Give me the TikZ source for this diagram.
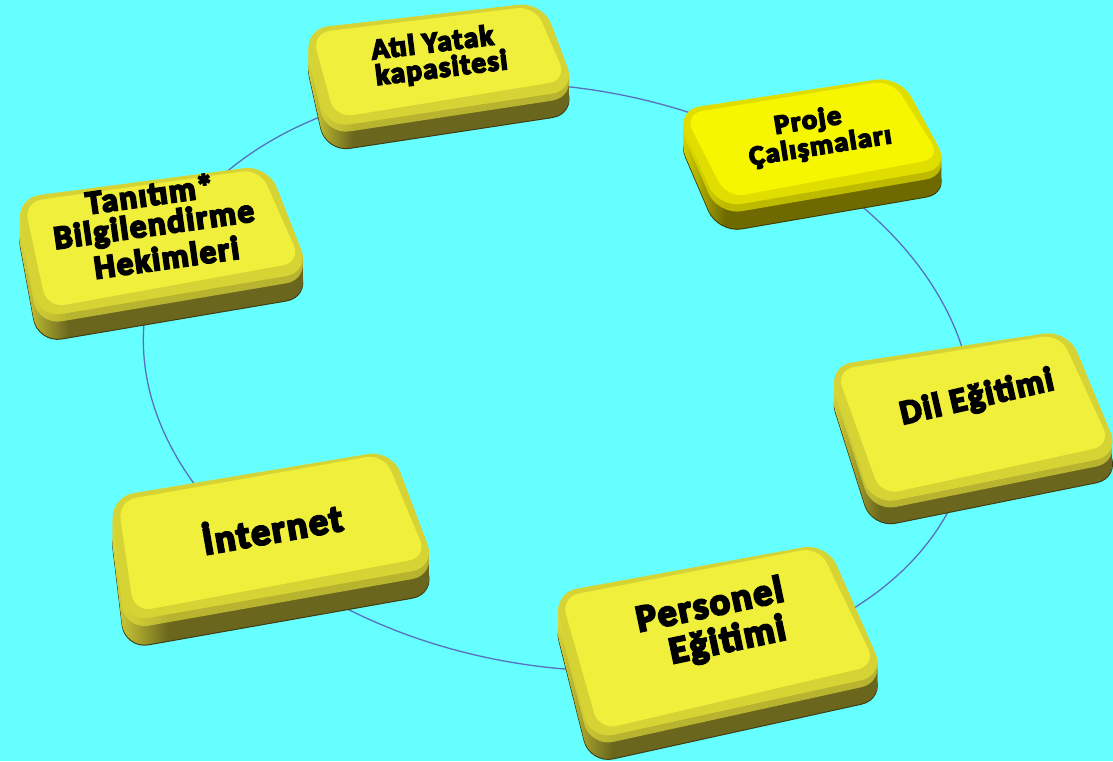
\documentclass[tikz,border=0pt]{standalone}
\usepackage{fontspec}
\usetikzlibrary{calc}
\newfontfamily\boxfont{Carlito}[UprightFont={* Bold}, FakeBold=6, LetterSpace=5]
\definecolor{bgc}{RGB}{102,255,255}
\definecolor{ringc}{RGB}{88,112,190}
\definecolor{faceY}{RGB}{240,240,60}
\definecolor{bevelY}{RGB}{214,211,52}
\definecolor{lipY}{RGB}{184,180,48}
\definecolor{sideLY}{RGB}{222,220,58}
\definecolor{sideDY}{RGB}{106,102,30}
\definecolor{faceP}{RGB}{246,246,0}
\definecolor{bevelP}{RGB}{224,221,0}
\definecolor{lipP}{RGB}{190,186,0}
\definecolor{sideLP}{RGB}{228,226,0}
\definecolor{sideDP}{RGB}{110,106,0}
\pgfdeclarehorizontalshading{sideshY}{100bp}{color(0bp)=(sideLY); color(25bp)=(sideLY); color(34bp)=(sideDY); color(100bp)=(sideDY)}
\pgfdeclarehorizontalshading{lipshY}{100bp}{color(0bp)=(sideLY); color(25bp)=(sideLY); color(34bp)=(lipY); color(100bp)=(lipY)}
\pgfdeclarehorizontalshading{sideshP}{100bp}{color(0bp)=(sideLP); color(25bp)=(sideLP); color(34bp)=(sideDP); color(100bp)=(sideDP)}
\pgfdeclarehorizontalshading{lipshP}{100bp}{color(0bp)=(sideLP); color(25bp)=(sideLP); color(34bp)=(lipP); color(100bp)=(lipP)}
% #1 prefix, #2 depth, #3 face, #4 bevel, #5 side shading, #6 lip shading, #7 outline colour
\newcommand{\slab}[7]{%
  \shadedraw[rounded corners=24pt, shading=#5, draw=#7, line width=1pt] ($(#1TL)+(0,#2)$) -- ($(#1TR)+(0,#2)$) -- ($(#1BR)+(0,#2)$) -- ($(#1BL)+(0,#2)$) -- cycle;
  \foreach \k in {1,...,16}{%
    \pgfmathsetmacro\slabS{#2*(24-\k)/24}%
    \shade[rounded corners=24pt, shading=#5] ($(#1TL)+(0,\slabS)$) -- ($(#1TR)+(0,\slabS)$) -- ($(#1BR)+(0,\slabS)$) -- ($(#1BL)+(0,\slabS)$) -- cycle;
  }%
  \foreach \k in {17,...,23}{%
    \pgfmathsetmacro\slabS{#2*(24-\k)/24}%
    \shade[rounded corners=24pt, shading=#6] ($(#1TL)+(0,\slabS)$) -- ($(#1TR)+(0,\slabS)$) -- ($(#1BR)+(0,\slabS)$) -- ($(#1BL)+(0,\slabS)$) -- cycle;
  }%
  \fill[rounded corners=24pt, #4] (#1TL) -- (#1TR) -- (#1BR) -- (#1BL) -- cycle;
  \fill[rounded corners=18pt, #3] ($(#1TL)+(8,4)$) -- ($(#1TR)+(-8,4)$) -- ($(#1BR)+(-9,-10)$) -- ($(#1BL)+(9,-10)$) -- cycle;
}
\tikzset{
  ring/.style={draw=ringc, line width=1.3pt},
  boxtext/.style={align=center, inner sep=0pt, text=black},
}
\begin{document}
\begin{tikzpicture}[x=1pt,y=-1pt]
\useasboundingbox (0,0) rectangle (1113,761);
\fill[bgc] (0,0) rectangle (1113,761);
% ring (a rotated ellipse)
\coordinate (ringc) at (558,377);
\draw[ring, rotate around={-10:(ringc)}] (ringc) ellipse [x radius=418pt, y radius=289pt];
% box corner coordinates
\coordinate (aTL) at (304,29);  \coordinate (aTR) at (543,2);   \coordinate (aBR) at (576,90);  \coordinate (aBL) at (326,128);
\coordinate (bTL) at (676,110); \coordinate (bTR) at (900,76);  \coordinate (bBR) at (950,168); \coordinate (bBL) at (718,208);
\coordinate (cTL) at (16,198);  \coordinate (cTR) at (268,165); \coordinate (cBR) at (310,272); \coordinate (cBL) at (38,318);
\coordinate (dTL) at (828,366); \coordinate (dTR) at (1068,330);\coordinate (dBR) at (1120,455);\coordinate (dBL) at (872,505);
\coordinate (eTL) at (110,497); \coordinate (eTR) at (392,450); \coordinate (eBR) at (436,567); \coordinate (eBL) at (125,622);
\coordinate (fTL) at (553,593); \coordinate (fTR) at (827,543); \coordinate (fBR) at (885,675); \coordinate (fBL) at (590,740);
\slab{a}{24}{faceY}{bevelY}{sideshY}{lipshY}{sideDY!60!black}
\slab{b}{25}{faceP}{bevelP}{sideshP}{lipshP}{sideDP!60!black}
\slab{c}{25}{faceY}{bevelY}{sideshY}{lipshY}{sideDY!60!black}
\slab{d}{23}{faceY}{bevelY}{sideshY}{lipshY}{sideDY!60!black}
\slab{e}{27}{faceY}{bevelY}{sideshY}{lipshY}{sideDY!60!black}
\slab{f}{24}{faceY}{bevelY}{sideshY}{lipshY}{sideDY!60!black}
% texts
\node[boxtext, rotate=7, font=\boxfont\fontsize{29}{26}\selectfont] (tA) at (434,57) {Atıl Yatak\\\kern6pt kapasitesi\kern-6pt};
\node[boxtext, rotate=9, xscale=1.05, font=\boxfont\fontsize{27}{27}\selectfont] (tB) at (810,135) {Proje\\\kern8pt Çalışmaları\kern-8pt};
\node[boxtext, rotate=8, font=\boxfont\fontsize{33}{30}\selectfont] (tC) at (154,226) {Tanıtım*\\Bilgilendirme\\[5pt]\kern8pt Hekimleri\kern-8pt};
\node[boxtext, rotate=13, font=\boxfont\fontsize{34}{34}\selectfont] (tD) at (977,398) {Dil Eğitimi};
\node[boxtext, rotate=10, font=\boxfont\fontsize{38}{38}\selectfont] (tE) at (272,527) {İnternet};
\node[boxtext, rotate=12, font=\boxfont\fontsize{38}{38}\selectfont] (tF) at (714,625) {Personel\\\kern10pt Eğitimi\kern-10pt};
\end{tikzpicture}
\end{document}
